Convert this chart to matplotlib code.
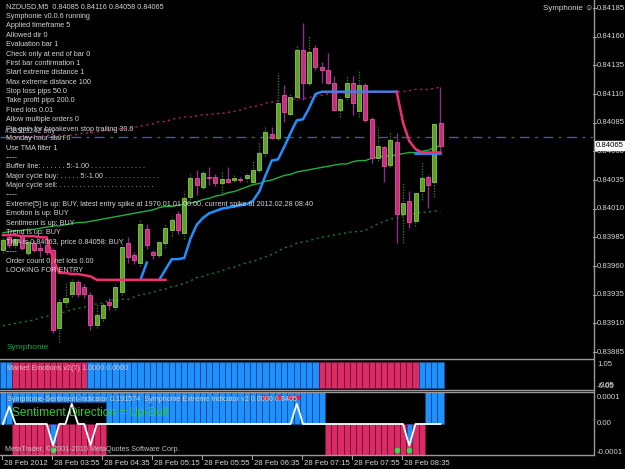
import numpy as np
import matplotlib
matplotlib.use("Agg")
import matplotlib.pyplot as plt
from matplotlib.patches import Rectangle
from matplotlib.lines import Line2D
import matplotlib.transforms as mtransforms

plt.rcParams['font.family'] = ['Liberation Sans', 'DejaVu Sans']

# ---------------- data (prices in points, 1 point = 0.00001) ----------------
open_pts = [83974, 83985, 83978, 83987, 83971, 83980, 83976, 83978, 83974, 83906,
            83929, 83936, 83946, 83942, 83935, 83909, 83915, 83929, 83924, 83937,
            83980, 83970, 83963, 83992, 83972, 83970, 83980, 83991, 84005, 83989,
            84020, 84037, 84029, 84038, 84038, 84032, 84036, 84035, 84036, 84037,
            84033, 84044, 84059, 84075, 84072, 84109, 84093, 84107, 84148, 84120,
            84150, 84134, 84131, 84120, 84096, 84107, 84120, 84095, 84118, 84088,
            84054, 84064, 84048, 84068, 84005, 84017, 83999, 84025, 84038, 84033,
            84085]
high_pts = [83986, 83987, 83986, 83989, 83983, 83983, 83980, 83980, 83976, 83932,
            83946, 83949, 83948, 83944, 83937, 83928, 83929, 83932, 83944, 83980,
            83985, 83972, 84000, 83997, 83974, 83983, 83997, 84004, 84008, 84025,
            84040, 84044, 84043, 84046, 84040, 84042, 84046, 84039, 84038, 84041,
            84052, 84068, 84081, 84081, 84128, 84118, 84111, 84153, 84172, 84161,
            84153, 84138, 84146, 84126, 84107, 84126, 84126, 84130, 84120, 84090,
            84081, 84065, 84077, 84076, 84033, 84025, 84024, 84051, 84039, 84086,
            84116]
low_pts = [83971, 83976, 83976, 83974, 83970, 83972, 83968, 83970, 83902, 83894,
           83924, 83933, 83933, 83932, 83904, 83906, 83912, 83922, 83922, 83935,
           83963, 83962, 83960, 83975, 83966, 83968, 83976, 83986, 83988, 83984,
           84018, 84022, 84027, 84031, 84030, 84024, 84032, 84033, 84033, 84033,
           84031, 84042, 84056, 84071, 84070, 84086, 84092, 84105, 84105, 84118,
           84131, 84120, 84119, 84095, 84090, 84105, 84092, 84090, 84086, 84050,
           84052, 84033, 84046, 83980, 83980, 83993, 83995, 84018, 84011, 84020,
           84058]
close_pts = [83983, 83978, 83984, 83976, 83981, 83974, 83974, 83972, 83904, 83929,
             83932, 83946, 83936, 83936, 83909, 83917, 83926, 83926, 83942, 83977,
             83968, 83965, 83997, 83978, 83970, 83981, 83993, 84000, 83991, 84019,
             84037, 84031, 84041, 84037, 84032, 84036, 84033, 84037, 84035, 84039,
             84044, 84059, 84077, 84072, 84102, 84094, 84107, 84148, 84120, 84147,
             84134, 84131, 84120, 84096, 84106, 84120, 84102, 84118, 84087, 84054,
             84065, 84047, 84070, 84005, 84015, 83998, 84024, 84037, 84031, 84084,
             84065]

tma_mid_pts = [83989, 83990, 83991, 83991, 83992, 83992, 83993, 83994, 83995, 83995,
               83996, 83997, 83998, 83998, 83999, 84000, 84001, 84002, 84003, 84004,
               84005, 84006, 84007, 84008, 84009, 84011, 84012, 84012, 84013, 84014,
               84015, 84016, 84018, 84019, 84021, 84022, 84024, 84025, 84027, 84029,
               84031, 84032, 84034, 84035, 84037, 84039, 84040, 84042, 84043, 84044,
               84045, 84046, 84047, 84048, 84049, 84049, 84051, 84052, 84052, 84054,
               84055, 84056, 84056, 84057, 84058, 84059, 84059, 84060, 84061, 84063,
               84065]
tma_low_pts = [83908, 83909, 83910, 83911, 83912, 83913, 83915, 83916, 83918, 83919,
               83920, 83922, 83923, 83924, 83926, 83927, 83928, 83930, 83930, 83931,
               83931, 83933, 83935, 83936, 83937, 83939, 83940, 83942, 83943, 83945,
               83947, 83950, 83951, 83953, 83954, 83956, 83958, 83959, 83961, 83963,
               83964, 83966, 83968, 83970, 83973, 83976, 83977, 83980, 83981, 83982,
               83984, 83985, 83986, 83987, 83988, 83989, 83990, 83990, 83991, 83994,
               83997, 83999, 84001, 84002, 84004, 84005, 84006, 84007, 84007, 84008,
               84008]
tma_up_pts = [84072, 84072, 84073, 84073, 84073, 84073, 84073, 84074, 84074, 84074,
              84074, 84074, 84075, 84076, 84076, 84077, 84078, 84078, 84079, 84080,
              84080, 84081, 84082, 84083, 84084, 84086, 84086, 84088, 84089, 84090,
              84090, 84091, 84092, 84092, 84093, 84093, 84094, 84095, 84096, 84098,
              84099, 84100, 84102, 84103, 84104, 84105, 84105, 84106, 84106, 84107,
              84108, 84109, 84110, 84111, 84111, 84111, 84112, 84112, 84112, 84112,
              84112, 84112, 84112, 84112, 84112, 84113, 84114, 84114, 84114, 84115,
              84116]
_ = None
trail_pink_pts = [83987, 83987, 83987, 83986, 83986, 83986, 83985, 83985, 83966, 83954,
                  83954, 83953, 83953, 83952, 83951, 83948, 83948, 83948, 83948, 83948,
                  83948, 83948, 83948, 83948, 83948, 83948, 83948, _, _, _,
                  _, _, _, _, _, _, _, _, _, _,
                  _, _, _, _, _, _, _, _, _, _,
                  _, 84112, 84112, 84112, 84112, 84112, 84112, 84112, 84112, 84112,
                  84112, 84112, 84112, 84112, 84085, 84069, 84062, 84059, 84059, 84059,
                  84059]
trail_blue_pts = [_, _, _, _, _, _, _, _, _, _,
                  _, _, _, _, _, _, _, _, _, _,
                  _, _, 83948, 83963, _, 83948, 83957, 83966, 83966, 83967,
                  83984, 83996, 84002, 84006, 84008, 84010, 84011, 84012, 84013, 84014,
                  84017, 84025, 84039, 84052, 84053, 84064, 84076, 84087, 84088, 84098,
                  84110, 84112, 84112, 84112, 84112, 84112, 84112, 84112, 84112, 84112,
                  84112, 84112, 84112, 84112, _, _, 84058, 84058, 84058, 84058,
                  84058]
order_line_price = 0.840725
last_price = 0.84065

# Market Emotions: 1 = up (blue), 0 = down (crimson)
emotion_up = [1, 1, 0, 0, 0, 0, 0, 0, 0, 0, 0, 0, 0, 0, 1, 1, 1, 1, 1, 1,
              1, 1, 1, 1, 1, 1, 1, 1, 1, 1, 1, 1, 1, 1, 1, 1, 1, 1, 1, 1,
              1, 1, 1, 1, 1, 1, 1, 1, 1, 1, 1, 0, 0, 0, 0, 0, 0, 0, 0, 0,
              0, 0, 0, 0, 0, 0, 0, 1, 1, 1, 1]
emotion_value = 1.0
# Sentiment direction: 1 = up (blue), 0 = down (crimson)
sentiment_up = [1, 1, 0, 0, 0, 0, 0, 0, 0, 0, 0, 0, 0, 0, 0, 0, 0, 1, 1, 1,
                1, 1, 1, 1, 1, 1, 1, 1, 1, 1, 1, 1, 1, 1, 1, 1, 1, 1, 1, 1,
                1, 1, 1, 1, 1, 1, 1, 1, 1, 1, 1, 1, 0, 0, 0, 0, 0, 0, 0, 0,
                0, 0, 0, 0, 0, 0, 0, 0, 1, 1, 1]
sentiment_value = 0.191574
# upper band of the sentiment window still shown over the early down bars (units 0.0001)
sentiment_cap_idx = list(range(2, 17))
sentiment_cap_from = 0.8
# Extreme indicator line (units of 0.0001)
extreme_line = [0, 0.65, 0, 0, 0, 0, 0, 0, -0.8, 0, 0, 0.75, 0, 0, -0.78, 0, 0, 0, 0, 0,
                0, 0, 0, 0, 0, 0, 0, 0, 0, 0, 0, 0, 0, 0, 0, 0, 0, 0, 0, 0,
                0, 0, 0, 0, 0, 0, 0, 0.75, 0, 0, 0, 0, 0, 0, 0, 0, 0, 0, 0, 0,
                0, 0, 0, 0, 0, -0.8, 0, 0, 0, 0, 0]
extreme_hist_idx = [8, 65]
extreme_hist_val = [-0.7, -0.7]
red_dot_idx = [42, 44, 46, 47]
red_dot_val = 1.0
green_dot_idx = [8, 63, 65]
green_dot_val = -0.95

price_tick_labels = ["0.84185", "0.84160", "0.84135", "0.84110", "0.84085", "0.84060",
                     "0.84035", "0.84010", "0.83985", "0.83960", "0.83935", "0.83910",
                     "0.83885"]
time_tick_idx = [0, 8, 16, 24, 32, 40, 48, 56, 64]
time_tick_labels = ["28 Feb 2012", "28 Feb 03:55", "28 Feb 04:35", "28 Feb 05:15",
                    "28 Feb 05:55", "28 Feb 06:35", "28 Feb 07:15", "28 Feb 07:55",
                    "28 Feb 08:35"]

info_lines = [
    "NZDUSD,M5  0.84085 0.84116 0.84058 0.84065",
    "Symphonie v0.0.6 running",
    "Applied timeframe 5",
    "Allowed dir 0",
    "Evaluation bar 1",
    "Check only at end of bar 0",
    "First bar confirmation 1",
    "Start extreme distance 1",
    "Max extreme distance 100",
    "Stop loss pips 50.0",
    "Take profit pips 200.0",
    "Fixed lots 0.01",
    "Allow multiple orders 0",
    "Pip gain for breakeven stop trailing 30.0",
    "Monday hour start 6",
    "Use TMA filter 1",
    "-----",
    "Buffer line: . . . . . . 5:-1.00 . . . . . . . . . . . . . .",
    "Major cycle buy: . . . . . 5:-1.00 . . . . . . . . . . . . . .",
    "Major cycle sell: . . . . . . . . . . . . . . . . . . . . . . . .",
    "-----",
    "Extreme[5] is up: BUY, latest entry spike at 1970.01.01 00:00, current spike at 2012.02.28 08:40",
    "Emotion is up: BUY",
    "Sentiment is up: BUY",
    "Trend is up: BUY",
    "TMA is 0.84063, price 0.84058: BUY",
    "-----",
    "Order count 0, net lots 0.00",
    "LOOKING FOR ENTRY",
]

# ---------------- derived ----------------
def to_price(lst):
    return np.array([np.nan if v is None else v for v in lst], dtype=float) / 1e5

O = to_price(open_pts); Hh = to_price(high_pts); L = to_price(low_pts); C = to_price(close_pts)
N = len(O)
xi = np.arange(N)

# ---------------- figure ----------------
W, H = 625, 469
fig = plt.figure(figsize=(W / 100, H / 100), dpi=100, facecolor='black')

def fx(x):
    return x / W

def fy(y):
    return 1 - y / H

AXR = 593
ax = fig.add_axes([0, fy(358), fx(AXR), 358 / H])
ax2 = fig.add_axes([0, fy(389), fx(AXR), 31 / H])
ax3 = fig.add_axes([0, fy(455), fx(AXR), 63 / H])
for a in (ax, ax2, ax3):
    a.set_axis_off()
    a.set_xlim((0 - 3) / 6.25, (AXR - 3) / 6.25)

ax.set_ylim(0.838798, 0.841920)

TXT = '#D4D4D4'
FS = 5.2

# TMA envelope & lines
ax.plot(xi, to_price(tma_low_pts), color='#1E7A2E', lw=1.0, dashes=(1.5, 2.5))
ax.plot(xi, to_price(tma_up_pts), color='#B02266', lw=1.0, dashes=(1.5, 2.5))
ax.plot(xi, to_price(tma_mid_pts), color='#20B040', lw=1.0)
ax.axhline(order_line_price, color='#4C5690', lw=1.0, dashes=(7, 4, 2, 4))

# candles
for i in range(N):
    o, h, l, c = O[i], Hh[i], L[i], C[i]
    bull = c >= o
    if bull:
        ax.vlines(i, l, h, color='#2A7A2A', lw=1.0, linestyles=(0, (1, 1)), zorder=3)
        fc, ec = '#5E9E2C', '#8CCB48'
    else:
        ax.vlines(i, l, h, color='#8A2E8E', lw=1.0, zorder=3)
        fc, ec = '#C0307E', '#EE4E9E'
    bot = min(o, c)
    hgt = max(abs(c - o), 0.000009)
    ax.add_patch(Rectangle((i - 0.32, bot), 0.64, hgt, facecolor=fc, edgecolor=ec,
                           lw=0.6, zorder=4))

# trailing lines
pink = to_price(trail_pink_pts)
blue = to_price(trail_blue_pts)
ax.plot(xi, blue, color='#1E90FF', lw=1.8, zorder=5)
pink_solid = pink.copy(); pink_solid[51:63] = np.nan
pink_flat = pink.copy(); pink_flat[:51] = np.nan; pink_flat[64:] = np.nan
ax.plot(xi, pink_solid, color='#F0306E', lw=1.8, zorder=6)
ax.plot(xi, pink_flat, color='#F0306E', lw=1.0, dashes=(1, 2), zorder=6)

# right price axis labels
tr = mtransforms.blended_transform_factory(ax.transAxes, ax.transData)
for s in price_tick_labels:
    v = float(s)
    ax.text(1 + 4 / AXR, v, s, transform=tr, color=TXT, fontsize=5.6,
            va='center', ha='left', clip_on=False)
    ax.plot([1.0, 1 + 3 / AXR], [v, v], transform=tr, color='#A0A0A0', lw=0.8, clip_on=False)
ax.text(1 + 3 / AXR, last_price, f"{last_price:.5f}", transform=tr, color='black',
        fontsize=5.6, va='center', ha='left', clip_on=False, zorder=10,
        bbox=dict(boxstyle='square,pad=0.15', fc='white', ec='white'))

# info text
for k, s in enumerate(info_lines):
    fig.text(fx(6), fy(7 + 9.4 * k), s, color=TXT, fontsize=FS, va='center', ha='left')
fig.text(fx(5), fy(131), "#36513242 buy", color='#B8B8C8', fontsize=FS, va='center', ha='left')
fig.text(fx(543), fy(9), "Symphonie \u263A", color=TXT, fontsize=5.8, va='center', ha='left')
fig.text(fx(7), fy(347), "Symphonie", color='#14A83C', fontsize=6.0, va='center', ha='left')

# ---------------- panel 2: Market Emotions ----------------
ax2.set_ylim(-0.04, 1.15)
cols2 = ['#1E90FF' if u else '#DC2A64' for u in emotion_up]
ecs2 = ['#114E90' if u else '#70143C' for u in emotion_up]
ax2.bar(xi, [emotion_value] * N, width=1.0, color=cols2, edgecolor=ecs2, lw=0.7)
fig.text(fx(7), fy(368), "Market Emotions v2(7) 1.0000 0.0000", color='#D8C0CC',
         fontsize=FS, va='center', ha='left')
fig.text(fx(597), fy(365), "1.05", color=TXT, fontsize=5.6, va='center', ha='left')
fig.text(fx(597), fy(386), "-0.05", color=TXT, fontsize=5.6, va='center', ha='left')
fig.text(fx(600), fy(385), "0.05", color=TXT, fontsize=5.6, va='center', ha='left')

# ---------------- panel 3: Sentiment / Extreme ----------------
ax3.set_ylim(-1.148e-4, 1.185e-4)
sent = np.array([sentiment_value if u else -sentiment_value for u in sentiment_up])
cols3 = ['#1E90FF' if u else '#DC2A64' for u in sentiment_up]
ecs3 = ['#114E90' if u else '#70143C' for u in sentiment_up]
ax3.bar(xi, sent, width=1.0, color=cols3, edgecolor=ecs3, lw=0.7)
ax3.bar(sentiment_cap_idx, [sentiment_value] * len(sentiment_cap_idx), width=1.0,
        bottom=sentiment_cap_from * 1e-4, color='#1E90FF', edgecolor='#114E90', lw=0.7)
ax3.bar(extreme_hist_idx, np.array(extreme_hist_val) * 1e-4, width=0.8, color='#1E90FF',
        edgecolor='#114E90', lw=0.5, zorder=3)
ax3.plot(xi, np.array(extreme_line) * 1e-4, color='white', lw=1.3, zorder=4)
ax3.scatter(red_dot_idx, [red_dot_val * 1e-4] * len(red_dot_idx), s=9, color='#E8204C', zorder=5)
ax3.scatter(green_dot_idx, [green_dot_val * 1e-4] * len(green_dot_idx), s=9, color='#30E050', zorder=5)
fig.text(fx(7), fy(399),
         "Symphonie-Sentiment-Indicator 0.191574  Symphonie Extreme Indicator v2 0.0000 0.8405",
         color='#D0D0D0', fontsize=FS, va='center', ha='left')
fig.text(fx(12), fy(413), "Sentiment Direction = Up-Bull", color='#2ED02E', fontsize=8.6,
         va='center', ha='left')
fig.text(fx(5), fy(449), "MetaTrader, \u00A9 2001-2010 MetaQuotes Software Corp.", color='#C8C0C0',
         fontsize=FS, va='center', ha='left')
fig.text(fx(597), fy(397), "0.0001", color=TXT, fontsize=5.6, va='center', ha='left')
fig.text(fx(597), fy(423), "0.00", color=TXT, fontsize=5.6, va='center', ha='left')
fig.text(fx(597), fy(452), "-0.0001", color=TXT, fontsize=5.6, va='center', ha='left')

# time axis
tr3 = mtransforms.blended_transform_factory(ax3.transData, ax3.transAxes)
for i, s in zip(time_tick_idx, time_tick_labels):
    ax3.plot([i - 0.1, i - 0.1], [0, -4 / 63], transform=tr3, color='#A0A0A0', lw=0.8, clip_on=False)
    ax3.text(i + 0.1, -8.5 / 63, s, transform=tr3, color=TXT, fontsize=5.6, va='center',
             ha='left', clip_on=False)

# frame lines
GR = '#9A9A9A'
for yy in (358.5, 389.5, 392, 455):
    fig.add_artist(Line2D([0, fx(AXR)], [fy(yy), fy(yy)], color=GR, lw=1.0))
fig.add_artist(Line2D([fx(AXR + 0.5), fx(AXR + 0.5)], [fy(0), fy(455)], color=GR, lw=1.0))

fig.savefig('out.png', dpi=100, facecolor='black')
